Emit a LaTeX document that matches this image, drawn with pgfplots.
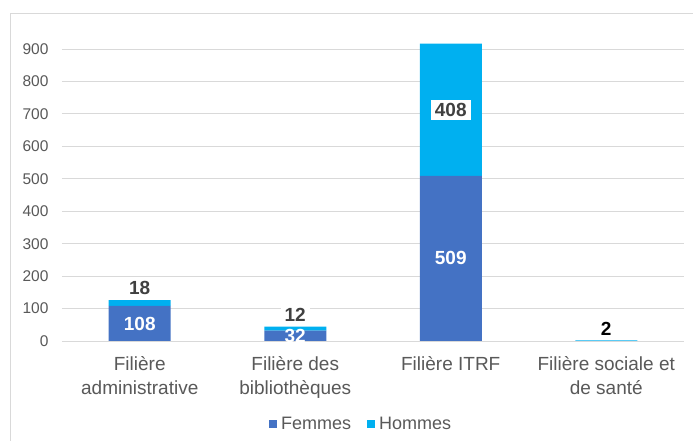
\documentclass[border=0pt]{standalone}
\usepackage{pgfplots}
\pgfplotsset{compat=1.18}
\usepackage{fontspec}
\setmainfont{Liberation Sans}
\definecolor{femmes}{HTML}{4472C4}
\definecolor{hommes}{HTML}{00B0F0}
\definecolor{txtgray}{HTML}{595959}
\definecolor{lblgray}{HTML}{404040}
\definecolor{gridgray}{HTML}{D9D9D9}
\tikzset{dlbl/.style={font=\bfseries\fontsize{19bp}{22bp}\selectfont}}
\begin{document}
\begin{tikzpicture}
\useasboundingbox (-62bp,-100bp) rectangle (631bp,341bp);
\fill[white] (-62bp,-100bp) rectangle (631bp,341bp);
\draw[gridgray, line width=1bp] (-51bp,-120bp) rectangle (650bp,327bp);
\begin{axis}[
  scale only axis,
  width=622bp, height=308.2bp,
  ybar stacked,
  bar width=62bp,
  xmin=-0.5, xmax=3.5,
  ymin=0, ymax=950,
  ytick={0,100,...,900},
  xtick={0,1,2,3},
  xticklabels={{Filière\\administrative},{Filière des\\bibliothèques},{Filière ITRF},{Filière sociale et\\de santé}},
  xticklabel style={align=center, font=\fontsize{19bp}{24bp}\selectfont, text=txtgray, yshift=-12bp},
  yticklabel style={font=\fontsize{15.5bp}{18bp}\selectfont, text=txtgray, xshift=-10bp},
  /pgf/number format/assume math mode=true,
  axis line style={draw=none},
  major tick length=0pt,
  ymajorgrids,
  grid style={gridgray, line width=1bp},
  legend style={at={(0.481,-0.269)}, anchor=center, legend columns=2, draw=none, fill=none,
    font=\fontsize{18bp}{20bp}\selectfont, text=txtgray,
    /tikz/every even column/.append style={column sep=14bp}},
  legend image code/.code={\fill[#1] (0bp,-4bp) rectangle (8bp,4bp);},
  legend cell align=left,
]
\addplot[fill=femmes, draw=none] coordinates {(0,108) (1,32) (2,509) (3,0)};
\addlegendentry{\hspace{2bp}Femmes}
\addplot[fill=hommes, draw=none] coordinates {(0,18) (1,12) (2,408) (3,2)};
\addlegendentry{\hspace{2bp}Hommes}
\coordinate (l0) at (axis cs:-0.5,0);
\coordinate (r0) at (axis cs:3.5,0);
\coordinate (f0) at (axis cs:0,54);
\coordinate (f1) at (axis cs:1,16);
\coordinate (f2) at (axis cs:2,254.5);
\coordinate (h0) at (axis cs:0,126);
\coordinate (h1) at (axis cs:1,44);
\coordinate (h2) at (axis cs:2,712);
\coordinate (h3) at (axis cs:3,2);
\end{axis}
\draw[gridgray, line width=1bp] (l0) -- (r0);
\node[dlbl, text=white] at (f0) {108};
\node[dlbl, text=white] at (f1) {32};
\node[dlbl, text=white] at (f2) {509};
\node[dlbl, text=lblgray, fill=white, anchor=south, inner xsep=4bp, inner ysep=2bp, yshift=3bp] at (h0) {18};
\node[dlbl, text=lblgray, fill=white, anchor=south, inner xsep=4bp, inner ysep=2bp, yshift=3bp] at (h1) {12};
\node[dlbl, text=lblgray, fill=white, inner xsep=4bp, inner ysep=3bp] at (h2) {408};
\node[dlbl, text=black, anchor=south, inner ysep=2bp, yshift=3bp] at (h3) {2};
\end{tikzpicture}
\end{document}
